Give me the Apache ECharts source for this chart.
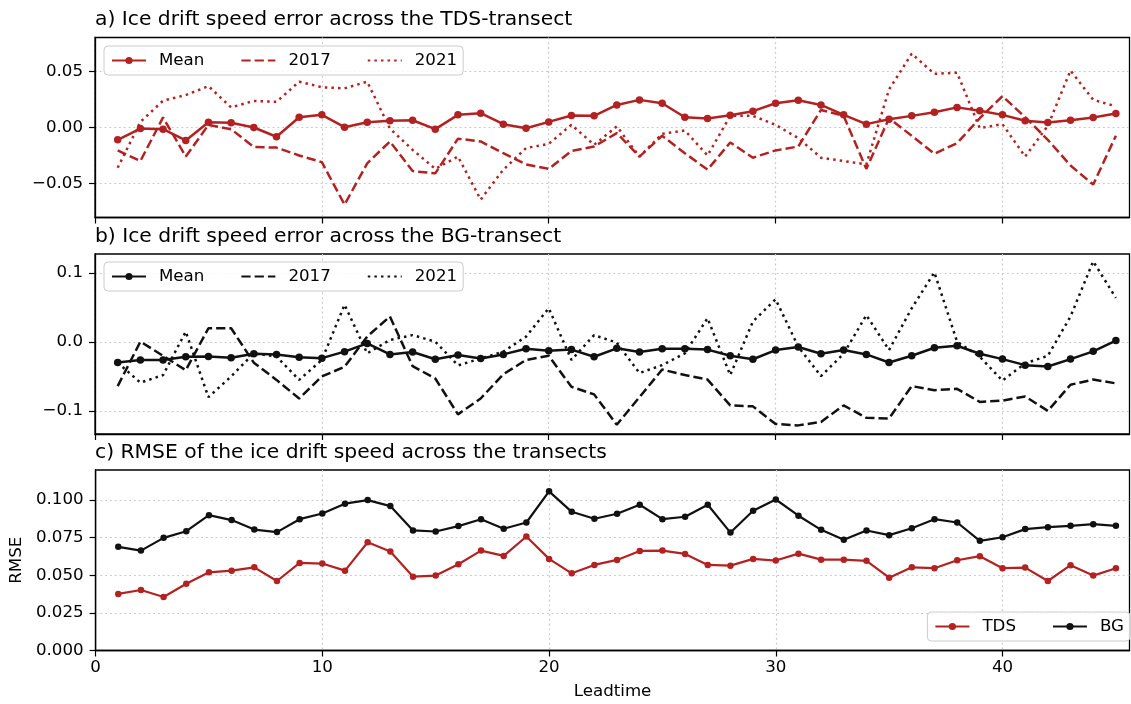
<!DOCTYPE html>
<html>
<head>
<meta charset="utf-8">
<script src="https://cdn.jsdelivr.net/npm/echarts@6/dist/echarts.min.js"></script>
<style>html,body{margin:0;padding:0;background:#fff;}#chart{width:1131px;height:704px;}</style>
</head>
<body>
<div id="chart"></div>
<script>
const leadtime = [1,2,3,4,5,6,7,8,9,10,11,12,13,14,15,16,17,18,19,20,21,22,23,24,25,26,27,28,29,30,31,32,33,34,35,36,37,38,39,40,41,42,43,44,45];

const tdsMean = [-0.011,-0.001,-0.0015,-0.0116,0.0047,0.0042,0.0,-0.0083,0.0092,0.0113,0.0003,0.0047,0.006,0.0065,-0.0015,0.0113,0.0128,0.003,-0.0006,0.005,0.0107,0.0104,0.0202,0.0247,0.0217,0.0092,0.008,0.011,0.0146,0.0217,0.0244,0.0202,0.0113,0.003,0.0074,0.0104,0.0137,0.018,0.015,0.0113,0.006,0.0045,0.0065,0.0089,0.0125];
const tds2017 = [-0.0205,-0.030,0.009,-0.026,0.0024,-0.0015,-0.0175,-0.018,-0.025,-0.031,-0.069,-0.032,-0.0125,-0.039,-0.041,-0.010,-0.0125,-0.023,-0.033,-0.037,-0.021,-0.017,-0.005,-0.026,-0.0074,-0.023,-0.0377,-0.0134,-0.027,-0.0205,-0.017,0.0157,0.0104,-0.037,0.0083,-0.0074,-0.0235,-0.014,0.0083,0.028,0.0092,-0.011,-0.034,-0.051,-0.0074];
const tds2021 = [-0.036,0.005,0.024,0.029,0.037,0.018,0.0238,0.023,0.041,0.036,0.035,0.041,-0.001,-0.02,-0.037,-0.026,-0.0645,-0.0377,-0.0184,-0.0146,0.0024,-0.0155,0.001,-0.026,-0.0056,-0.0027,-0.025,0.0104,0.0104,0.0024,-0.0095,-0.027,-0.030,-0.033,0.034,0.066,0.048,0.049,-0.0006,0.003,-0.026,0.0015,0.051,0.0247,0.019];

const bgMean = [-0.0297,-0.026,-0.026,-0.0214,-0.021,-0.023,-0.017,-0.018,-0.022,-0.0234,-0.014,-0.002,-0.018,-0.0146,-0.025,-0.019,-0.024,-0.018,-0.0097,-0.0127,-0.011,-0.0214,-0.0092,-0.0146,-0.0097,-0.0097,-0.011,-0.020,-0.025,-0.0117,-0.0073,-0.017,-0.0117,-0.018,-0.0297,-0.020,-0.0083,-0.0054,-0.017,-0.0248,-0.0336,-0.0355,-0.0248,-0.0136,0.002];
const bg2017 = [-0.064,0.0005,-0.020,-0.041,0.020,0.020,-0.030,-0.055,-0.082,-0.050,-0.036,0.008,0.037,-0.035,-0.053,-0.105,-0.082,-0.0467,-0.026,-0.020,-0.065,-0.076,-0.120,-0.080,-0.040,-0.048,-0.0545,-0.092,-0.0934,-0.119,-0.121,-0.116,-0.092,-0.110,-0.111,-0.064,-0.070,-0.068,-0.087,-0.085,-0.079,-0.100,-0.062,-0.0545,-0.060];
const bg2021 = [-0.030,-0.059,-0.048,0.015,-0.080,-0.050,-0.0165,-0.021,-0.055,-0.026,0.054,-0.0165,0.003,0.010,0.0005,-0.034,-0.024,-0.014,0.0078,0.049,-0.026,0.010,-0.001,-0.045,-0.0336,-0.0165,0.0345,-0.048,0.0297,0.062,-0.0068,-0.0496,-0.017,0.039,-0.0117,0.049,0.101,0.0005,-0.0214,-0.056,-0.031,-0.020,0.037,0.117,0.064];

const tdsRMSE = [0.0376,0.0402,0.0356,0.0444,0.052,0.0531,0.0553,0.0462,0.0582,0.0578,0.0531,0.072,0.0658,0.0491,0.0498,0.0573,0.0664,0.0629,0.0758,0.0609,0.0513,0.0569,0.0602,0.0662,0.0664,0.0642,0.0569,0.0564,0.0609,0.0598,0.0644,0.0604,0.0604,0.0596,0.0484,0.0553,0.0547,0.06,0.0627,0.0547,0.0551,0.0462,0.0567,0.0498,0.0547];
const bgRMSE = [0.0689,0.0664,0.0749,0.0793,0.090,0.0867,0.0804,0.0787,0.0873,0.0911,0.0976,0.100,0.096,0.0798,0.0791,0.0827,0.0873,0.0809,0.0851,0.1058,0.0922,0.0876,0.0909,0.0969,0.0873,0.0889,0.0969,0.0784,0.0929,0.1004,0.0896,0.0802,0.0736,0.0798,0.0767,0.0813,0.0873,0.0851,0.0729,0.0753,0.0807,0.082,0.0829,0.084,0.0829];

const xTicks = [0,10,20,30,40];
const yTicksA = [-0.05,0,0.05];
const yTicksB = [-0.1,0,0.1];
const yTicksC = [0,0.025,0.05,0.075,0.1];
const titles = ['a) Ice drift speed error across the TDS-transect','b) Ice drift speed error across the BG-transect','c) RMSE of the ice drift speed across the transects'];

const RED = '#b22222', BLACK = '#111111';
const FONT = 'DejaVu Sans';
const DASH = [9.25, 4];
const DOT = [2.5, 4.1];

const pairs = arr => leadtime.map((x, i) => [x, arr[i]]);
const fmt = d => v => (v < 0 ? '\u2212' : '') + Math.abs(v).toFixed(d);

const grids = [
  {left: 95, width: 1034.5, top: 37.5, height: 180},
  {left: 95, width: 1034.5, top: 254, height: 180},
  {left: 95, width: 1034.5, top: 470, height: 180.5}
];

function xAxisFor(i, showLabels) {
  return {
    type: 'value', gridIndex: i, min: 0, max: 45.6,
    axisLine: {show: true, onZero: false, lineStyle: {color: '#000', width: 1.3}},
    axisTick: {show: true, length: 6, inside: false, customValues: xTicks, lineStyle: {color: '#000', width: 1.2}},
    axisLabel: {show: showLabels, customValues: xTicks, margin: 9, color: '#000', fontSize: 16.67, fontFamily: FONT},
    splitLine: {show: true, lineStyle: {color: '#c8c8c8', width: 1.2, type: [1.8, 3]}},
    name: showLabels ? 'Leadtime' : '', nameLocation: 'middle', nameGap: 33,
    nameTextStyle: {color: '#000', fontSize: 16.67, fontFamily: FONT}
  };
}
function yAxisFor(i, min, max, ticks, d, name) {
  return {
    type: 'value', gridIndex: i, min: min, max: max,
    axisLine: {show: true, onZero: false, lineStyle: {color: '#000', width: 1.3}},
    axisTick: {show: true, length: 6, customValues: ticks, lineStyle: {color: '#000', width: 1.2}},
    axisLabel: {show: true, customValues: ticks, margin: 12, color: '#000', fontSize: 16.67, fontFamily: FONT, formatter: fmt(d)},
    splitLine: {show: true, lineStyle: {color: '#c8c8c8', width: 1.2, type: [1.8, 3]}},
    name: name || '', nameLocation: 'middle', nameGap: 66, nameRotate: 90,
    nameTextStyle: {color: '#000', fontSize: 16.67, fontFamily: FONT}
  };
}

function meanSeries(name, idx, data, color) {
  return {name: name, type: 'line', xAxisIndex: idx, yAxisIndex: idx, data: pairs(data),
    symbol: 'circle', symbolSize: 7.5, showSymbol: true,
    lineStyle: {color: color, width: 2.5}, itemStyle: {color: color}, z: 3};
}
function styledSeries(name, idx, data, color, dash) {
  return {name: name, type: 'line', xAxisIndex: idx, yAxisIndex: idx, data: pairs(data),
    symbol: 'none', showSymbol: false,
    lineStyle: {color: color, width: 2.5, type: dash}, itemStyle: {color: color}, z: 2};
}
function rmseSeries(name, data, color) {
  return {name: name, type: 'line', xAxisIndex: 2, yAxisIndex: 2, data: pairs(data),
    symbol: 'circle', symbolSize: 6.5, showSymbol: true,
    lineStyle: {color: color, width: 2.2}, itemStyle: {color: color}, z: 3};
}

const legendBase = {
  orient: 'horizontal', itemWidth: 34, itemHeight: 9, itemGap: 36,
  padding: [6, 6, 6, 7], borderColor: '#cccccc', borderWidth: 1, borderRadius: 4,
  backgroundColor: 'rgba(255,255,255,0.85)',
  textStyle: {color: '#000', fontSize: 16.67, fontFamily: FONT, padding: [0, 0, 0, 8]},
  formatter: n => n.slice(2), selectedMode: false
};
const hideSym = {itemStyle: {opacity: 0}};

const option = {
  animation: false,
  backgroundColor: '#fff',
  textStyle: {fontFamily: FONT},
  title: titles.map((t, i) => ({text: t, left: 95, top: [10, 226.5, 442.5][i], padding: 0,
    textStyle: {color: '#000', fontSize: 20.3, fontWeight: 'normal', fontFamily: FONT}})),
  grid: grids.map(g => Object.assign({show: true, borderColor: '#000', borderWidth: 1.3, backgroundColor: 'transparent'}, g)),
  xAxis: [xAxisFor(0, false), xAxisFor(1, false), xAxisFor(2, true)],
  yAxis: [
    yAxisFor(0, -0.0805, 0.0805, yTicksA, 2),
    yAxisFor(1, -0.1335, 0.1277, yTicksB, 1),
    yAxisFor(2, 0, 0.12, yTicksC, 3, 'RMSE')
  ],
  legend: [
    Object.assign({}, legendBase, {left: 104, top: 46,
      data: [{name: 'a|Mean'}, Object.assign({name: 'a|2017'}, hideSym), Object.assign({name: 'a|2021'}, hideSym)]}),
    Object.assign({}, legendBase, {left: 104, top: 262,
      data: [{name: 'b|Mean'}, Object.assign({name: 'b|2017'}, hideSym), Object.assign({name: 'b|2021'}, hideSym)]}),
    Object.assign({}, legendBase, {right: 1, top: 612, width: 200,
      data: [{name: 'c|TDS'}, {name: 'c|BG'}]})
  ],
  series: [
    meanSeries('a|Mean', 0, tdsMean, RED),
    styledSeries('a|2017', 0, tds2017, RED, DASH),
    styledSeries('a|2021', 0, tds2021, RED, DOT),
    meanSeries('b|Mean', 1, bgMean, BLACK),
    styledSeries('b|2017', 1, bg2017, BLACK, DASH),
    styledSeries('b|2021', 1, bg2021, BLACK, DOT),
    rmseSeries('c|TDS', tdsRMSE, RED),
    rmseSeries('c|BG', bgRMSE, BLACK)
  ]
};

const chart = echarts.init(document.getElementById('chart'), null, {renderer: 'canvas'});
chart.setOption(option);
</script>
</body>
</html>
